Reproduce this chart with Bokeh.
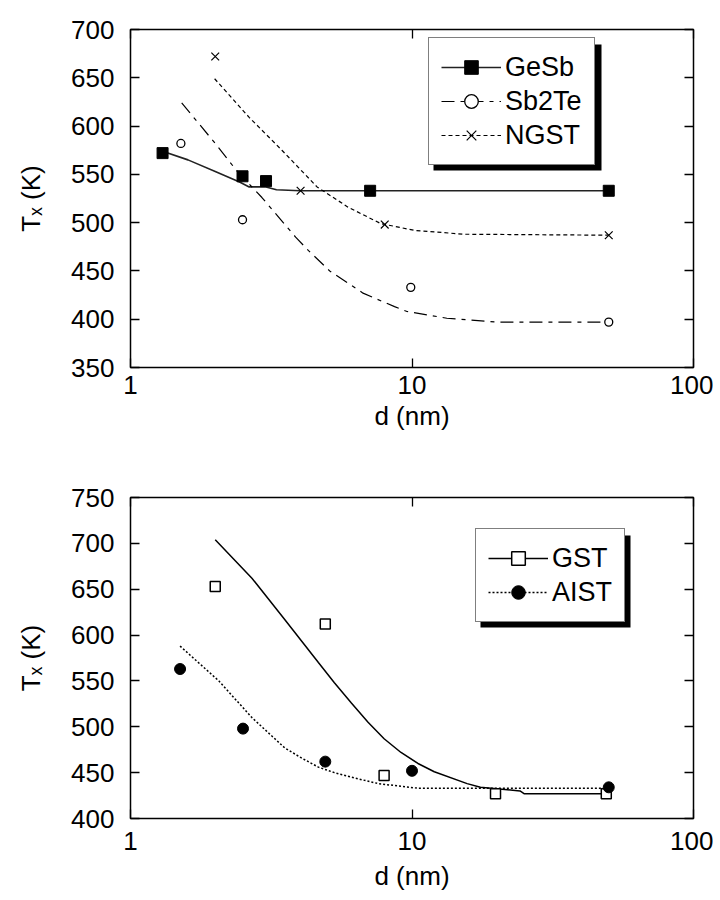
from bokeh.plotting import figure
from bokeh.layouts import column
from bokeh.models import (LinearAxis, LogAxis, FixedTicker, Legend, LegendItem,
                          PrintfTickFormatter, BoxAnnotation)
from bokeh.embed import file_html
from bokeh.resources import INLINE

FONT = "Liberation Sans"
FS = "26px"

# ---------------- data: top panel ----------------
gesb_d = [1.3, 2.5, 3.03, 7.1, 50]
gesb_t = [572, 548, 543, 533, 533]
gesb_fit_d = [1.3, 1.6, 2.0, 2.44, 2.64, 3.03, 3.3, 4.0, 7.0, 50]
gesb_fit_t = [574, 565, 553, 542, 537, 537, 534, 533, 533, 533]

sb2te_d = [1.51, 2.5, 9.9, 50]
sb2te_t = [582, 503, 433, 397]
sb2te_fit_d = [1.52, 2.0, 2.38, 2.93, 3.86, 4.29, 5.1, 6.7, 8.67, 9.6, 13.3, 20, 50]
sb2te_fit_t = [624, 582, 554, 526, 485, 471, 450, 427, 413, 408, 401, 397, 397]

ngst_d = [2.0, 4.02, 8.0, 50]
ngst_t = [672, 533, 498, 487]
ngst_fit_d = [1.99, 2.64, 3.45, 4.6, 5.93, 7.75, 10.2, 15.3, 50]
ngst_fit_t = [649, 609, 575, 537, 516, 499, 492, 488, 487]

top_yticks = [350, 400, 450, 500, 550, 600, 650, 700]

# ---------------- data: bottom panel ----------------
gst_d = [2.0, 4.92, 7.96, 19.8, 49]
gst_t = [653, 612, 447, 427, 427]
gst_fit_d = [2.0, 2.7, 3.53, 4.65, 5.3, 6.09, 6.98, 7.96, 9.14, 10.5, 12.0,
             15.7, 17.5, 24.2, 25, 50]
gst_fit_t = [704, 662, 617, 570, 548, 526, 505, 487, 472, 460, 451,
             438, 434, 430, 427, 427]

aist_d = [1.5, 2.51, 4.92, 10, 50]
aist_t = [563, 498, 462, 452, 434]
aist_fit_d = [1.5, 2.06, 2.7, 3.53, 4.05, 4.65, 5.3, 6.09, 7.6, 10.5, 15, 50]
aist_fit_t = [588, 550, 510, 477, 466, 456, 450, 445, 438, 433, 433, 433]

bot_yticks = [400, 450, 500, 550, 600, 650, 700, 750]

xticks = [1, 10, 100]
xlabel = "d (nm)"
ylabel = "T\u2093 (K)"


def style_axis(ax, labels=True):
    ax.major_tick_in = 9
    ax.major_tick_out = 0
    ax.minor_tick_line_color = None
    ax.major_tick_line_color = "black"
    ax.major_tick_line_width = 1.3
    ax.axis_line_color = None
    ax.major_label_text_font = FONT
    ax.major_label_text_color = "black"
    ax.axis_label_text_font = FONT
    ax.axis_label_text_font_style = "normal"
    ax.axis_label_text_font_size = FS
    ax.axis_label_text_color = "black"
    ax.major_label_text_font_size = FS
    if not labels:
        ax.major_label_text_font_size = "2px"
        ax.major_label_text_color = None
        ax.major_label_standoff = 0


def make_fig(y0, y1, yticks, borders, xstand):
    left, right, top, bottom = borders
    p = figure(width=713, height=450, x_axis_type="log", x_range=(1, 100),
               y_range=(y0, y1), output_backend="svg", toolbar_location=None,
               min_border_left=left, min_border_right=right,
               min_border_top=top, min_border_bottom=bottom)
    p.grid.visible = False
    p.outline_line_color = "black"
    p.outline_line_width = 1.5
    p.outline_line_alpha = 1
    p.background_fill_color = "white"
    p.border_fill_color = "white"

    xa = p.xaxis[0]
    xa.ticker = FixedTicker(ticks=xticks)
    xa.formatter = PrintfTickFormatter(format="%d")
    xa.axis_label = xlabel
    style_axis(xa)
    xa.major_label_standoff = xstand[0]
    xa.axis_label_standoff = xstand[1]

    ya = p.yaxis[0]
    ya.ticker = FixedTicker(ticks=yticks)
    ya.axis_label = ylabel
    style_axis(ya)
    ya.major_label_standoff = 16
    ya.axis_label_standoff = 22

    ra = LinearAxis(ticker=FixedTicker(ticks=yticks))
    style_axis(ra, labels=False)
    p.add_layout(ra, "right")
    ta = LogAxis(ticker=FixedTicker(ticks=xticks),
                 formatter=PrintfTickFormatter(format="%d"))
    style_axis(ta, labels=False)
    p.add_layout(ta, "above")
    return p


def add_legend(p, entries, loc, size):
    w, h = size
    shadow = BoxAnnotation(left=loc[0] + 5, right=loc[0] + w + 5,
                           bottom=loc[1] - 5, top=loc[1] + h - 5,
                           left_units="screen", right_units="screen",
                           bottom_units="screen", top_units="screen",
                           fill_color="black", fill_alpha=1, line_color=None)
    p.add_layout(shadow)
    main = Legend(items=[LegendItem(label=l, renderers=r) for l, r in entries],
                  location=loc, background_fill_color="white",
                  background_fill_alpha=1, border_line_color="black",
                  border_line_width=1.5, label_text_color="black",
                  glyph_width=60, glyph_height=34, label_height=34,
                  label_standoff=4, padding=12, spacing=0, margin=0,
                  label_text_font=FONT, label_text_font_size="27px")
    p.add_layout(main, "center")


# ---------------- top panel ----------------
p1 = make_fig(350, 700, top_yticks, (130, 14, 29, 83), (8, 4))
l1 = p1.line(gesb_fit_d, gesb_fit_t, line_color="#222222", line_width=1.6)
s1 = p1.scatter(gesb_d, gesb_t, marker="square", size=11, fill_color="black",
                line_color="black")
l2 = p1.line(sb2te_fit_d, sb2te_fit_t, line_color="black", line_width=1.2,
             line_dash="13 6 4 6")
s2 = p1.scatter(sb2te_d, sb2te_t, marker="circle", size=8, fill_color="white",
                line_color="black", line_width=1.3)
l3 = p1.line(ngst_fit_d, ngst_fit_t, line_color="black", line_width=1.2,
             line_dash="4 3")
s3 = p1.scatter(ngst_d, ngst_t, marker="x", size=11, line_color="black",
                line_width=1.2)
add_legend(p1, [("GeSb", [l1, s1]), ("Sb2Te", [l2, s2]), ("NGST", [l3, s3])],
           (298, 202), (168, 126))

# ---------------- bottom panel ----------------
p2 = make_fig(400, 750, bot_yticks, (128, 20, 47, 82), (13, 8))
l4 = p2.line(gst_fit_d, gst_fit_t, line_color="black", line_width=1.5)
s4 = p2.scatter(gst_d, gst_t, marker="square", size=10, fill_color="white",
                line_color="black", line_width=1.5)
l5 = p2.line(aist_fit_d, aist_fit_t, line_color="black", line_width=1.5,
             line_dash="2 2")
s5 = p2.scatter(aist_d, aist_t, marker="circle", size=11, fill_color="black",
                line_color="black")
add_legend(p2, [("GST", [l4, s4]), ("AIST", [l5, s5])], (345, 196), (150, 92))

layout = column(p1, p2, spacing=0)
open("out.html", "w").write(file_html(layout, INLINE))
